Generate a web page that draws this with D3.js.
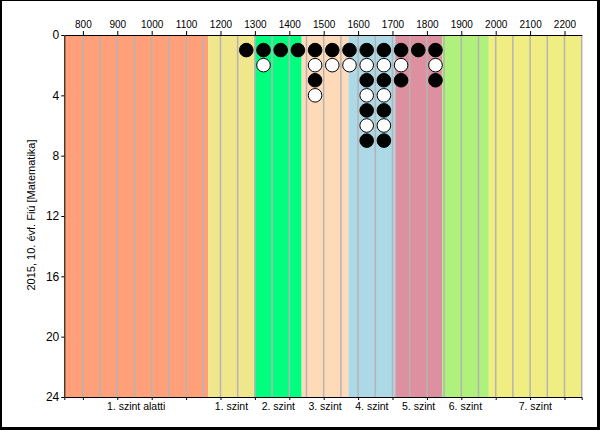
<!DOCTYPE html>
<html><head><meta charset="utf-8">
<script src="https://cdn.jsdelivr.net/npm/d3@7/dist/d3.min.js"></script>
<style>body{margin:0;background:#fff}svg{display:block}text{font-family:"Liberation Sans",Arial,sans-serif}</style>
</head><body><svg id="c" width="600" height="430"></svg>
<script>
// ---- data ----
const levelNames  = ["1. szint alatti","1. szint","2. szint","3. szint","4. szint","5. szint","6. szint","7. szint"];
const levelStarts = [746, 1164, 1300, 1436, 1572, 1708, 1844, 1980];
const levelEnds   = [1164, 1300, 1436, 1572, 1708, 1844, 1980, 2250];
const levelColors = ["#FFA07A","#F0E68C","#00FF7F","#FFDAB9","#ADD8E6","#DC90A0","#B0F07C","#F0EE82"];
const binCenters  = [1275, 1325, 1375, 1425, 1475, 1525, 1575, 1625, 1675, 1725, 1775, 1825];
const filledCounts= [1, 1, 1, 1, 2, 1, 1, 4, 4, 2, 1, 2];
const openCounts  = [0, 1, 0, 0, 2, 1, 1, 3, 3, 1, 0, 1];
const xTicks = [800,900,1000,1100,1200,1300,1400,1500,1600,1700,1800,1900,2000,2100,2200];
const yTicks = [0,4,8,12,16,20,24];
const yLabel = "2015, 10. évf. Fiú [Matematika]";

(function(){
const svg = d3.select("#c");
const L = 64.3, R = 581.7, T = 35, B = 397;
const x = d3.scaleLinear().domain([746, 2250]).range([L, R]);
const y = d3.scaleLinear().domain([0, 24]).range([T, B]);

// frame
svg.append("rect").attr("x",0).attr("y",0).attr("width",600).attr("height",430).attr("fill","#000");
svg.append("rect").attr("x",2).attr("y",1).attr("width",595).attr("height",426).attr("fill","#fff");

// bands
svg.selectAll("rect.band").data(levelNames).enter().append("rect")
  .attr("x",(d,i)=>x(levelStarts[i])).attr("y",T)
  .attr("width",(d,i)=>x(levelEnds[i])-x(levelStarts[i])).attr("height",B-T)
  .attr("fill",(d,i)=>levelColors[i]);

// grid
const grid = d3.range(800, 2251, 50);
svg.selectAll("line.g").data(grid).enter().append("line")
  .attr("x1",d=>x(d)).attr("x2",d=>x(d)).attr("y1",T).attr("y2",B)
  .attr("stroke","#b4b4b4").attr("stroke-width",1.5);

// dots
const dots = [];
binCenters.forEach((c,i)=>{
  const n = filledCounts[i] + openCounts[i];
  let f = 0, o = 0;
  for (let r = 0; r < n; r++) {
    const filled = (r % 2 === 0 && f < filledCounts[i]) || o >= openCounts[i];
    if (filled) f++; else o++;
    dots.push({x:c, row:r+1, filled});
  }
});
svg.selectAll("circle").data(dots).enter().append("circle")
  .attr("cx",d=>x(d.x)).attr("cy",d=>y(d.row)).attr("r",6.8)
  .attr("fill",d=>d.filled?"#000":"#fff").attr("stroke","#000").attr("stroke-width",1);

// axes
const topAx = svg.append("g").attr("transform",`translate(0,${T})`)
  .call(d3.axisTop(x).tickValues(xTicks).tickSize(4).tickSizeOuter(0).tickFormat(d3.format("d")));
topAx.selectAll("text").attr("font-size",10).attr("fill","#000");
topAx.selectAll("path,line").attr("stroke","#000");

const botAx = svg.append("g").attr("transform",`translate(0,${B})`)
  .call(d3.axisBottom(x).tickValues(xTicks).tickSize(3).tickSizeOuter(3).tickFormat(""));
botAx.selectAll("path,line").attr("stroke","#000");

const leftAx = svg.append("g").attr("transform",`translate(${L},0)`)
  .call(d3.axisLeft(y).tickValues(yTicks).tickSize(3).tickSizeOuter(0).tickPadding(2));
leftAx.selectAll("text").attr("font-size",12).attr("fill","#000");
leftAx.selectAll("path,line").attr("stroke","#000");

svg.selectAll("text.lvl").data(levelNames).enter().append("text")
  .attr("x",(d,i)=>x((levelStarts[i]+levelEnds[i])/2)).attr("y",410)
  .attr("text-anchor","middle").attr("font-size",10.5).attr("fill","#000").text(d=>d);

svg.append("text").attr("transform","translate(35,215) rotate(-90)")
  .attr("text-anchor","middle").attr("font-size",11).attr("fill","#000").text(yLabel);
})();
</script></body></html>
